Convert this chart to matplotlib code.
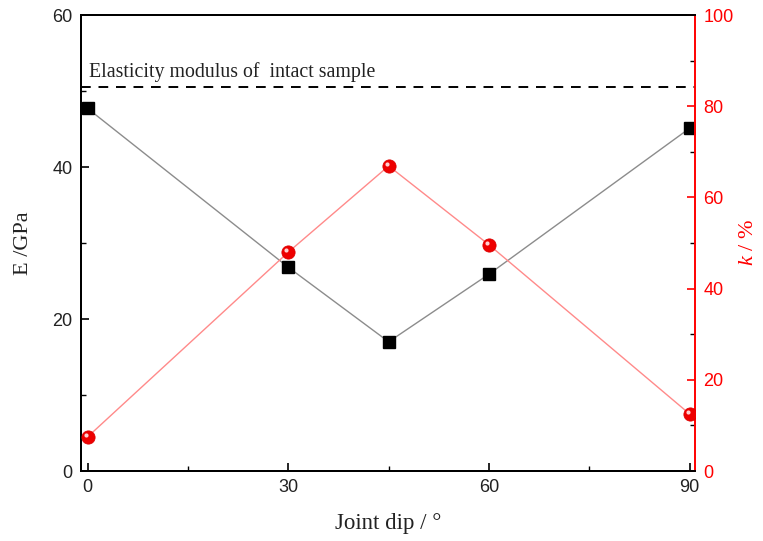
import matplotlib
matplotlib.use("Agg")
import matplotlib.pyplot as plt
from matplotlib.transforms import offset_copy

plt.rcParams["mathtext.fontset"] = "custom"
plt.rcParams["mathtext.it"] = "Liberation Serif:italic"
plt.rcParams["mathtext.rm"] = "Liberation Serif"

# Joint dip angles (degrees)
dip = [0, 30, 45, 60, 90]
# Elasticity modulus E (GPa)
E_vals = [47.7, 26.8, 17.0, 25.9, 45.1]
# k (%)
k_vals = [7.5, 48.0, 66.9, 49.6, 12.5]
# Elasticity modulus of the intact sample (GPa)
E_intact = 50.5

x_ticks = [0, 30, 60, 90]
E_ticks = [0, 20, 40, 60]
k_ticks = [0, 20, 40, 60, 80, 100]

W, H = 763, 541
fig = plt.figure(figsize=(W / 100, H / 100), dpi=100)
ax = fig.add_axes([81 / W, (H - 471) / H, (695 - 81) / W, (471 - 15) / H])
ax2 = ax.twinx()

serif = "Liberation Serif"
sans = "Liberation Sans"

# E series (left axis)
ax.plot(dip, E_vals, color="#8c8c8c", lw=1.0, marker="s", ms=8.5,
        mfc="black", mec="black", zorder=3)
ax.axhline(E_intact, color="black", lw=1.4, ls=(0, (5, 4)), zorder=2)
ax.text(0.2, 51.8, "Elasticity modulus of  intact sample", family=serif,
        fontsize=14.3, color="#222222", ha="left", va="baseline")

# k series (right axis), red balls with a highlight
ax2.plot(dip, k_vals, color="#ff8a8a", lw=1.0, zorder=3)
ax2.plot(dip, k_vals, ls="none", marker="o", ms=9.5, mfc="#ee0000",
         mec="#dd0000", mew=0.6, zorder=4)
hl = offset_copy(ax2.transData, fig=fig, x=-1.4, y=1.4, units="points")
ax2.plot(dip, k_vals, ls="none", marker="o", ms=3.0, mfc="#ffd0d0",
         mec="none", transform=hl, zorder=5)

ax.set_xlim(-1, 90.8)
ax.set_ylim(0, 60)
ax2.set_ylim(0, 100)

ax.set_xticks(x_ticks)
ax.set_xticks([15, 45, 75], minor=True)
ax.set_yticks(E_ticks)
ax.set_yticks([10, 30, 50], minor=True)
ax2.set_yticks(k_ticks)
ax2.set_yticks([10, 30, 50, 70, 90], minor=True)

for a in (ax, ax2):
    a.tick_params(which="major", direction="in", length=6, width=1.2)
    a.tick_params(which="minor", direction="in", length=3.5, width=1.0)
ax.tick_params(axis="both", labelsize=13, labelcolor="#222222", pad=6)
ax.tick_params(axis="x", top=False, which="both")
ax2.tick_params(axis="y", colors="red", labelsize=13, labelcolor="red", pad=6)

for lab in ax.get_xticklabels() + ax.get_yticklabels() + ax2.get_yticklabels():
    lab.set_family(sans)

for s in ax.spines.values():
    s.set_linewidth(1.4)
for s in ax2.spines.values():
    s.set_linewidth(1.4)
ax2.spines["right"].set_color("red")
ax.spines["right"].set_visible(False)

ax.set_xlabel("Joint dip / \u00b0", family=serif, fontsize=16.5, color="#222222",
              labelpad=12)
ax.set_ylabel("E /GPa", family=serif, fontsize=16, color="#222222", labelpad=14)
ax2.set_ylabel("$k$ / %", family=serif, fontsize=16, color="red",
               labelpad=4)

fig.savefig("out.png", dpi=100)
